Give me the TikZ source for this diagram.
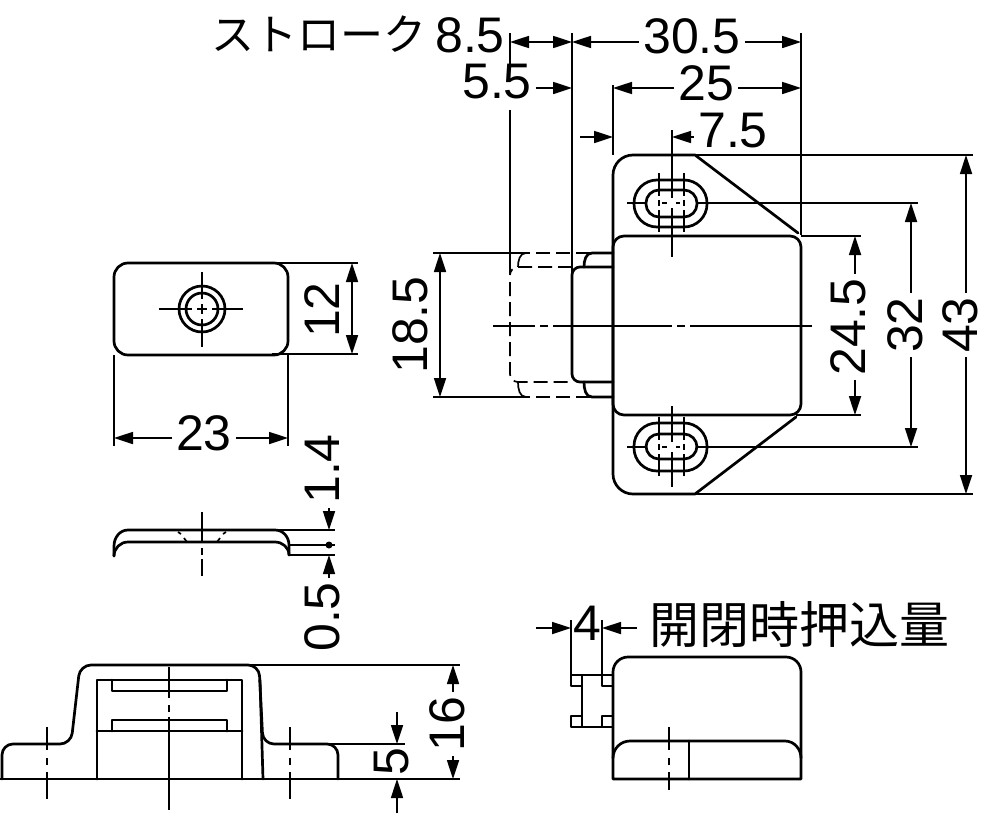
\documentclass[tikz,border=0pt]{standalone}
\usepackage{fontspec}
\setmainfont{Liberation Sans}
\newfontfamily\cjk{Noto Sans CJK JP}
\usetikzlibrary{arrows.meta}
\tikzset{
  outline/.style={line width=2.7pt,line join=round,line cap=round},
  thinline/.style={line width=1.7pt},
  dimline/.style={line width=1.7pt,-{Triangle[length=19pt,width=12pt]}},
  bothline/.style={line width=1.7pt,{Triangle[length=19pt,width=12pt]}-{Triangle[length=19pt,width=12pt]}},
  hidden/.style={line width=1.7pt,dash pattern=on 14pt off 6pt},
  dimtext/.style={inner sep=4pt,font=\fontsize{50}{50}\selectfont},
  jptext/.style={inner sep=0pt,font=\cjk},
}
\begin{document}
\begin{tikzpicture}[x=1pt,y=-1pt]
    \useasboundingbox (0,0) rectangle (1000,814);
    % top view
    \draw[outline,rounded corners=14pt] (114,263) rectangle (288,355);
    \draw[outline] (202,309) circle (23);
    \draw[outline] (202,309) circle (16);
    \draw[thinline] (159,309) -- (192,309) (197,309) -- (207,309) (212,309) -- (243,309);
    \draw[thinline] (202,272) -- (202,299) (202,304) -- (202,314) (202,319) -- (202,347);
    % dimension 23 and 12
    \coordinate (wa) at (114,438);
    \coordinate (wb) at (288,438);
    \node[dimtext] (w23) at (204,433) {23};
    \draw[thinline] (wa |- 0,355) -- (114,446) (wb |- 0,355) -- (288,446);
    \draw[dimline] (w23.west |- wa) -- (wa);
    \draw[dimline] (w23.east |- wb) -- (wb);
    \coordinate (ha) at (352,263);
    \coordinate (hb) at (352,354);
    \node[dimtext,rotate=90] (h12) at (322,310) {12};
    \draw[thinline] (272,263) -- (358,263) (272,354) -- (358,354);
    \draw[bothline] (ha) -- (hb);
    % side view
    \draw[outline] (114,556) -- (114,546) to[out=90,in=180] (128,530) -- (275,530) to[out=0,in=90] (289,545) -- (289,555);
    \draw[outline] (114,556) to[out=90,in=180] (128,542) -- (275,542) to[out=0,in=90] (289,555);
    \draw[thinline] (202,512) -- (202,542) (202,548) -- (202,555) (202,559) -- (202,576);
    \draw[thinline] (178,532) -- (181,534) (184,538) -- (187,542) (226,532) -- (223,534) (220,538) -- (217,542);
    \draw[thinline] (275,530) -- (335,530) (289,545) -- (335,545) (289,555) -- (335,555);
    \coordinate (ta) at (329,530);
    \coordinate (tb) at (329,555);
    \node[dimtext,rotate=90] (t14) at (322,469) {1.4};
    \node[dimtext,rotate=90] (t05) at (322,617) {0.5};
    \draw[dimline] (t14.west -| ta) -- (ta);
    \draw[dimline] (t05.east -| tb) -- (tb);
    \fill (329,545) circle (3.5);
    % front view
    \draw[outline,rounded corners=11pt] (2,779) -- (2,744) -- (71,744) -- (80,665) -- (259,665) -- (263,744) -- (338,744) -- (338,779);
    \draw[outline] (260,680) -- (263,779);
    \draw[outline] (0,779) -- (338,779);
    \draw[outline] (97,779) -- (97,680) -- (242,680) -- (242,779);
    \draw[outline] (97,731) -- (242,731);
    \draw[outline] (112,680) -- (112,691) -- (227,691) -- (227,680);
    \draw[outline] (112,731) -- (112,720) -- (227,720) -- (227,731);
    \draw[thinline] (169,667) -- (169,698) (169,705) -- (169,712) (169,717) -- (169,810);
    \draw[thinline] (47,727) -- (47,750) (47,758) -- (47,765) (47,772) -- (47,799);
    \draw[thinline] (290,727) -- (290,750) (290,758) -- (290,765) (290,772) -- (290,799);
    % dimension 16 and 5
    \draw[thinline] (248,665) -- (460,665) (338,779) -- (460,779) (328,744) -- (405,744);
    \coordinate (fa) at (453,665);
    \coordinate (fb) at (453,779);
    \node[dimtext,rotate=90] (f16) at (447,724) {16};
    \draw[dimline] (f16.east -| fa) -- (fa);
    \draw[dimline] (f16.west -| fb) -- (fb);
    \coordinate (ga) at (397,744);
    \coordinate (gb) at (397,779);
    \node[dimtext,rotate=90] (g5) at (392,762) {5};
    \draw[dimline] (397,712) -- (ga);
    \draw[dimline] (397,813) -- (gb);
    % main view
    \draw[outline] (798,233) -- (695,155) [rounded corners=20pt] -- (613,155) -- (613,494) [sharp corners] -- (695,494) -- (796,417);
    \draw[outline,rounded corners=11pt] (613,236) rectangle (801,415);
    \draw[outline,rounded corners=23pt] (634,180) rectangle (707,227);
    \draw[outline,rounded corners=13pt] (646,190) rectangle (697,217);
    \draw[outline,rounded corners=23pt] (634,423) rectangle (707,471);
    \draw[outline,rounded corners=13pt] (646,434) rectangle (697,459);
    % plunger
    \draw[outline,rounded corners=8pt] (613,267) -- (572,267) -- (572,382) -- (613,382);
    \draw[outline] (613,253) -- (592,253) to[out=180,in=90] (584,267);
    \draw[outline] (613,397) -- (592,397) to[out=180,in=-90] (584,382);
    \draw[hidden,rounded corners=8pt] (510,282) -- (510,382) -- (572,382);
    \draw[hidden] (572,267) -- (518,267) to[out=180,in=90] (510,275);
    \draw[hidden] (590,253) -- (526,253) (590,397) -- (526,397);
    \draw[thinline] (526,253) to[out=180,in=90] (518,267) (526,397) to[out=180,in=-90] (518,382);
    % centre lines
    \draw[thinline] (493,326) -- (535,326) (540,326) -- (548,326) (553,326) -- (672,326) (677,326) -- (685,326) (690,326) -- (812,326);
    \draw[thinline] (627,203) -- (646,203) (662,203) -- (667,203) (676,203) -- (680,203) (697,203) -- (918,203);
    \draw[thinline] (627,447) -- (646,447) (662,447) -- (667,447) (676,447) -- (680,447) (697,447) -- (918,447);
    \draw[thinline] (672,130) -- (672,198) (672,208) -- (672,257);
    \draw[thinline] (672,406) -- (672,442) (672,452) -- (672,487);
    \foreach \sx in {659,684} {
      \draw[thinline] (\sx,173) -- (\sx,196) (\sx,200) -- (\sx,206) (\sx,210) -- (\sx,232);
      \draw[thinline] (\sx,417) -- (\sx,440) (\sx,444) -- (\sx,450) (\sx,454) -- (\sx,476);
    }
    % extension lines
    \draw[thinline] (510,33) -- (510,65) (510,110) -- (510,275);
    \draw[thinline] (572,33) -- (572,275);
    \draw[thinline] (613,85) -- (613,155);
    \draw[thinline] (801,33) -- (801,235);
    \draw[thinline] (695,155) -- (973,155) (695,494) -- (973,494);
    \draw[thinline] (801,236) -- (861,236) (796,415) -- (861,415);
    \draw[thinline] (433,253) -- (526,253) (433,397) -- (526,397);
    % top dimensions
    \coordinate (sa) at (510,42);
    \coordinate (sb) at (572,42);
    \coordinate (sc) at (801,42);
    \node[jptext,font=\cjk\fontsize{43}{43}\selectfont] (strk) at (319,34) {ストローク};
    \node[dimtext] (s85) at (470,35) {8.5};
    \node[dimtext] (s305) at (692,36) {30.5};
    \draw[bothline] (sa) -- (sb);
    \draw[dimline] (s305.west |- sb) -- (sb);
    \draw[dimline] (s305.east |- sc) -- (sc);
    \coordinate (ra) at (572,88);
    \coordinate (rb) at (613,88);
    \coordinate (rc) at (801,88);
    \node[dimtext] (r55) at (497,82) {5.5};
    \node[dimtext] (r25) at (706,83) {25};
    \draw[dimline] (r55.east |- ra) -- (ra);
    \draw[dimline] (r25.west |- rb) -- (rb);
    \draw[dimline] (r25.east |- rc) -- (rc);
    \coordinate (qa) at (613,137);
    \coordinate (qb) at (672,137);
    \node[dimtext] (q75) at (733,131) {7.5};
    \draw[dimline] (580,137) -- (qa);
    \draw[dimline] (q75.west |- qb) -- (qb);
    % right dimensions
    \coordinate (va) at (966,155);
    \coordinate (vb) at (966,494);
    \node[dimtext,rotate=90] (v43) at (960,325) {43};
    \draw[dimline] (v43.east -| va) -- (va);
    \draw[dimline] (v43.west -| vb) -- (vb);
    \coordinate (ua) at (911,203);
    \coordinate (ub) at (911,447);
    \node[dimtext,rotate=90] (u32) at (905,325) {32};
    \draw[dimline] (u32.east -| ua) -- (ua);
    \draw[dimline] (u32.west -| ub) -- (ub);
    \coordinate (ka) at (855,236);
    \coordinate (kb) at (855,415);
    \node[dimtext,rotate=90] (k245) at (848,327) {24.5};
    \draw[dimline] (k245.east -| ka) -- (ka);
    \draw[dimline] (k245.west -| kb) -- (kb);
    \coordinate (la) at (440,253);
    \coordinate (lb) at (440,397);
    \node[dimtext,rotate=90] (l185) at (410,325) {18.5};
    \draw[bothline] (la) -- (lb);
    % stroke view
    \draw[outline] (613,779) [rounded corners=15pt] -- (613,657) -- (801,657) [sharp corners] -- (801,779) -- cycle;
    \draw[outline] (613,758) to[out=90,in=180] (630,741) -- (785,741) to[out=0,in=90] (801,758);
    \draw[outline] (689,741) -- (689,779);
    \draw[thinline] (669,727) -- (669,750) (669,758) -- (669,765) (669,772) -- (669,790);
    \draw[outline] (582,675) rectangle (613,727);
    \draw[outline] (571,675) rectangle (582,686);
    \draw[outline] (571,716) rectangle (582,727);
    \draw[outline] (602,675) rectangle (613,686);
    \draw[outline] (602,716) rectangle (613,727);
    \draw[thinline] (571,620) -- (571,675) (602,620) -- (602,675);
    \coordinate (pa) at (571,628);
    \coordinate (pb) at (602,628);
    \node[dimtext] (p4) at (587,623) {4};
    \node[jptext,font=\cjk\fontsize{50}{50}\selectfont] (plbl) at (799,624) {開閉時押込量};
    \draw[dimline] (536,628) -- (pa);
    \draw[dimline] (637,628) -- (pb);
\end{tikzpicture}
\end{document}
